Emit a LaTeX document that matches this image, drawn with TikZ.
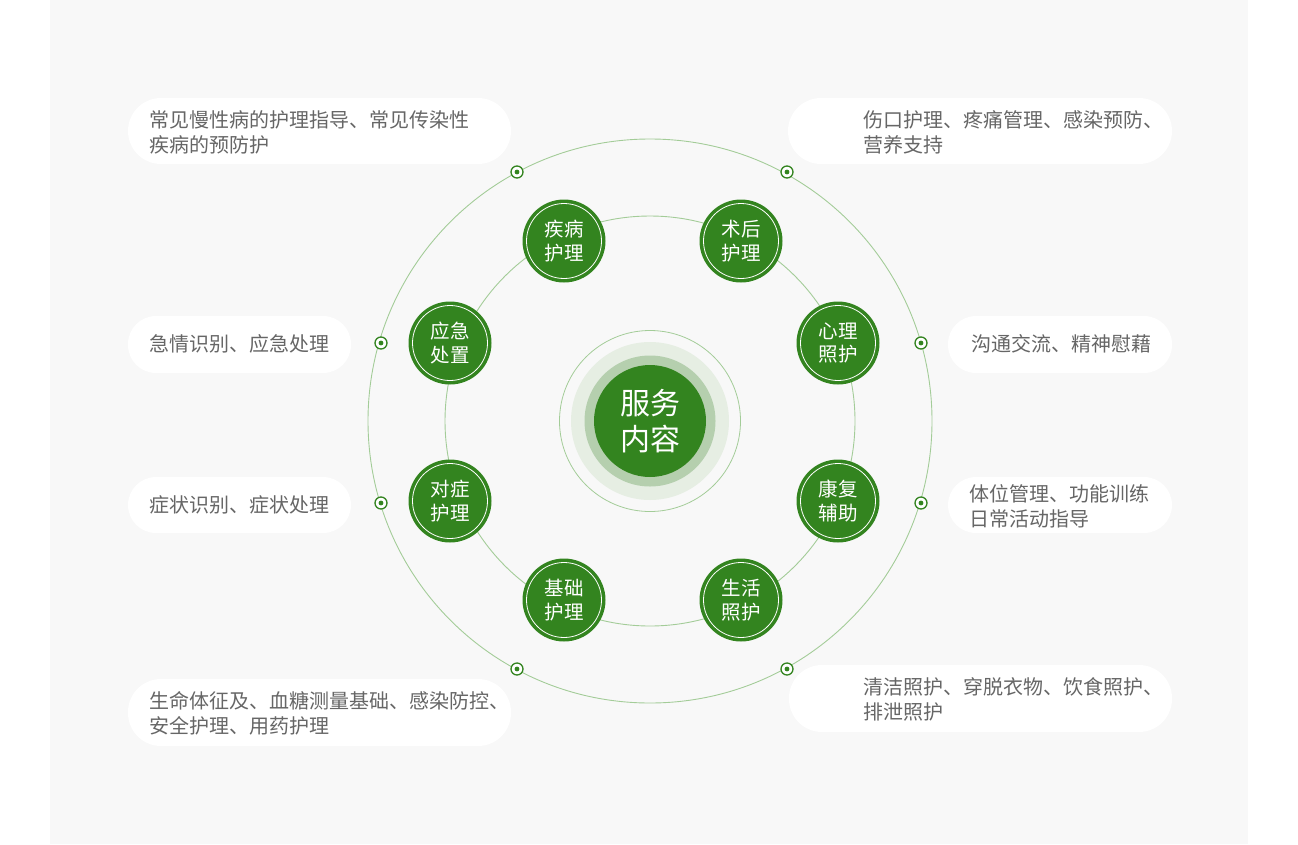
\documentclass[tikz,border=0pt]{standalone}
\usepackage{fontspec}
\setmainfont{Noto Sans CJK SC}
\usepackage{xcolor}
\usepackage{tikz}
\usetikzlibrary{positioning}
\definecolor{leafgreen}{HTML}{33841F}
\definecolor{linegreen}{HTML}{A3CC98}
\definecolor{ringlight}{HTML}{E6EEE3}
\definecolor{ringmid}{HTML}{B5CFAE}
\definecolor{panelgray}{HTML}{F8F8F8}
\definecolor{textgray}{HTML}{666666}

\begin{document}
\begin{tikzpicture}[x=1pt, y=-1pt,
  topic/.style={circle, fill=leafgreen, minimum size=83pt, inner sep=0pt,
    text=white, align=center, font=\fontsize{19.5}{23.5}\selectfont},
  marker/.style={circle, draw=leafgreen, fill=white, line width=1.3pt,
    minimum size=12pt, inner sep=0pt},
  pill/.style={fill=white, rounded corners=#1},
  note/.style={anchor=west, align=left, inner sep=0pt, text=textgray,
    font=\fontsize{20}{25}\selectfont}]

%% === Background ===
\fill[white] (0,0) rectangle (1298,844);
\fill[panelgray] (50,0) rectangle (1248,844);
\useasboundingbox (0,0) rectangle (1298,844);

%% === Rings ===
\draw[linegreen, line width=0.9pt] (650,421) circle (282pt);
\draw[linegreen, line width=0.9pt] (650,421) circle (205pt);

%% === Hub ===
\draw[linegreen, line width=0.8pt] (650,421) circle (90.5pt);
\fill[ringlight] (650,421) circle (79pt);
\fill[ringmid] (650,421) circle (65.5pt);
\node[circle, fill=leafgreen, minimum size=112pt, inner sep=0pt, text=white,
  align=center, font=\fontsize{30}{36}\selectfont] (hub) at (650,421)
  {服务\\内容};

%% === Topics on the inner ring ===
\foreach \x/\y/\name/\txt in {564/241/jibing/疾病\\护理, 741/241/shuhou/术后\\护理,
    838/343/xinli/心理\\照护, 838/501/kangfu/康复\\辅助,
    741/600/shenghuo/生活\\照护, 564/600/jichu/基础\\护理,
    450/501/duizheng/对症\\护理, 450/343/yingji/应急\\处置} {
  \node[topic] (\name) at (\x,\y) {\txt};
  \draw[white, line width=0.8pt] (\name) circle (37.5pt);
}

%% === Markers on the outer ring ===
\foreach \x/\y/\name in {517/172/mjibing, 787/172/mshuhou, 921/343/mxinli,
    921/503/mkangfu, 787/669/mshenghuo, 517/669/mjichu,
    381/503/mduizheng, 381/343/myingji} {
  \node[marker] (\name) at (\x,\y) {};
  \fill[leafgreen] (\name) circle (2.4pt);
}

%% === Left notes ===
\fill[pill=33pt] (128,98) rectangle (511,164);
\node[note] (tjibing) at (149,132.5)
  {常见慢性病的护理指导、常见传染性\\疾病的预防护};
\fill[pill=28pt] (128,316) rectangle (351,373);
\node[note] (tyingji) at (149,344) {急情识别、应急处理};
\fill[pill=28pt] (128,477) rectangle (351,533);
\node[note] (tduizheng) at (149,505) {症状识别、症状处理};
\fill[pill=33pt] (128,679) rectangle (511,746);
\node[note] (tjichu) at (149,713.5)
  {生命体征及、血糖测量基础、感染防控、\\安全护理、用药护理};

%% === Right notes ===
\fill[pill=33pt] (788,98) rectangle (1172,164);
\node[note] (tshuhou) at (863,132.5)
  {伤口护理、疼痛管理、感染预防、\\营养支持};
\fill[pill=28pt] (948,316) rectangle (1172,373);
\node[note] (txinli) at (971,344) {沟通交流、精神慰藉};
\fill[pill=28pt] (948,477) rectangle (1172,533);
\node[note] (tkangfu) at (969,506) {体位管理、功能训练\\日常活动指导};
\fill[pill=33pt] (789,665) rectangle (1172,732);
\node[note] (tshenghuo) at (863,699)
  {清洁照护、穿脱衣物、饮食照护、\\排泄照护};

\end{tikzpicture}
\end{document}
